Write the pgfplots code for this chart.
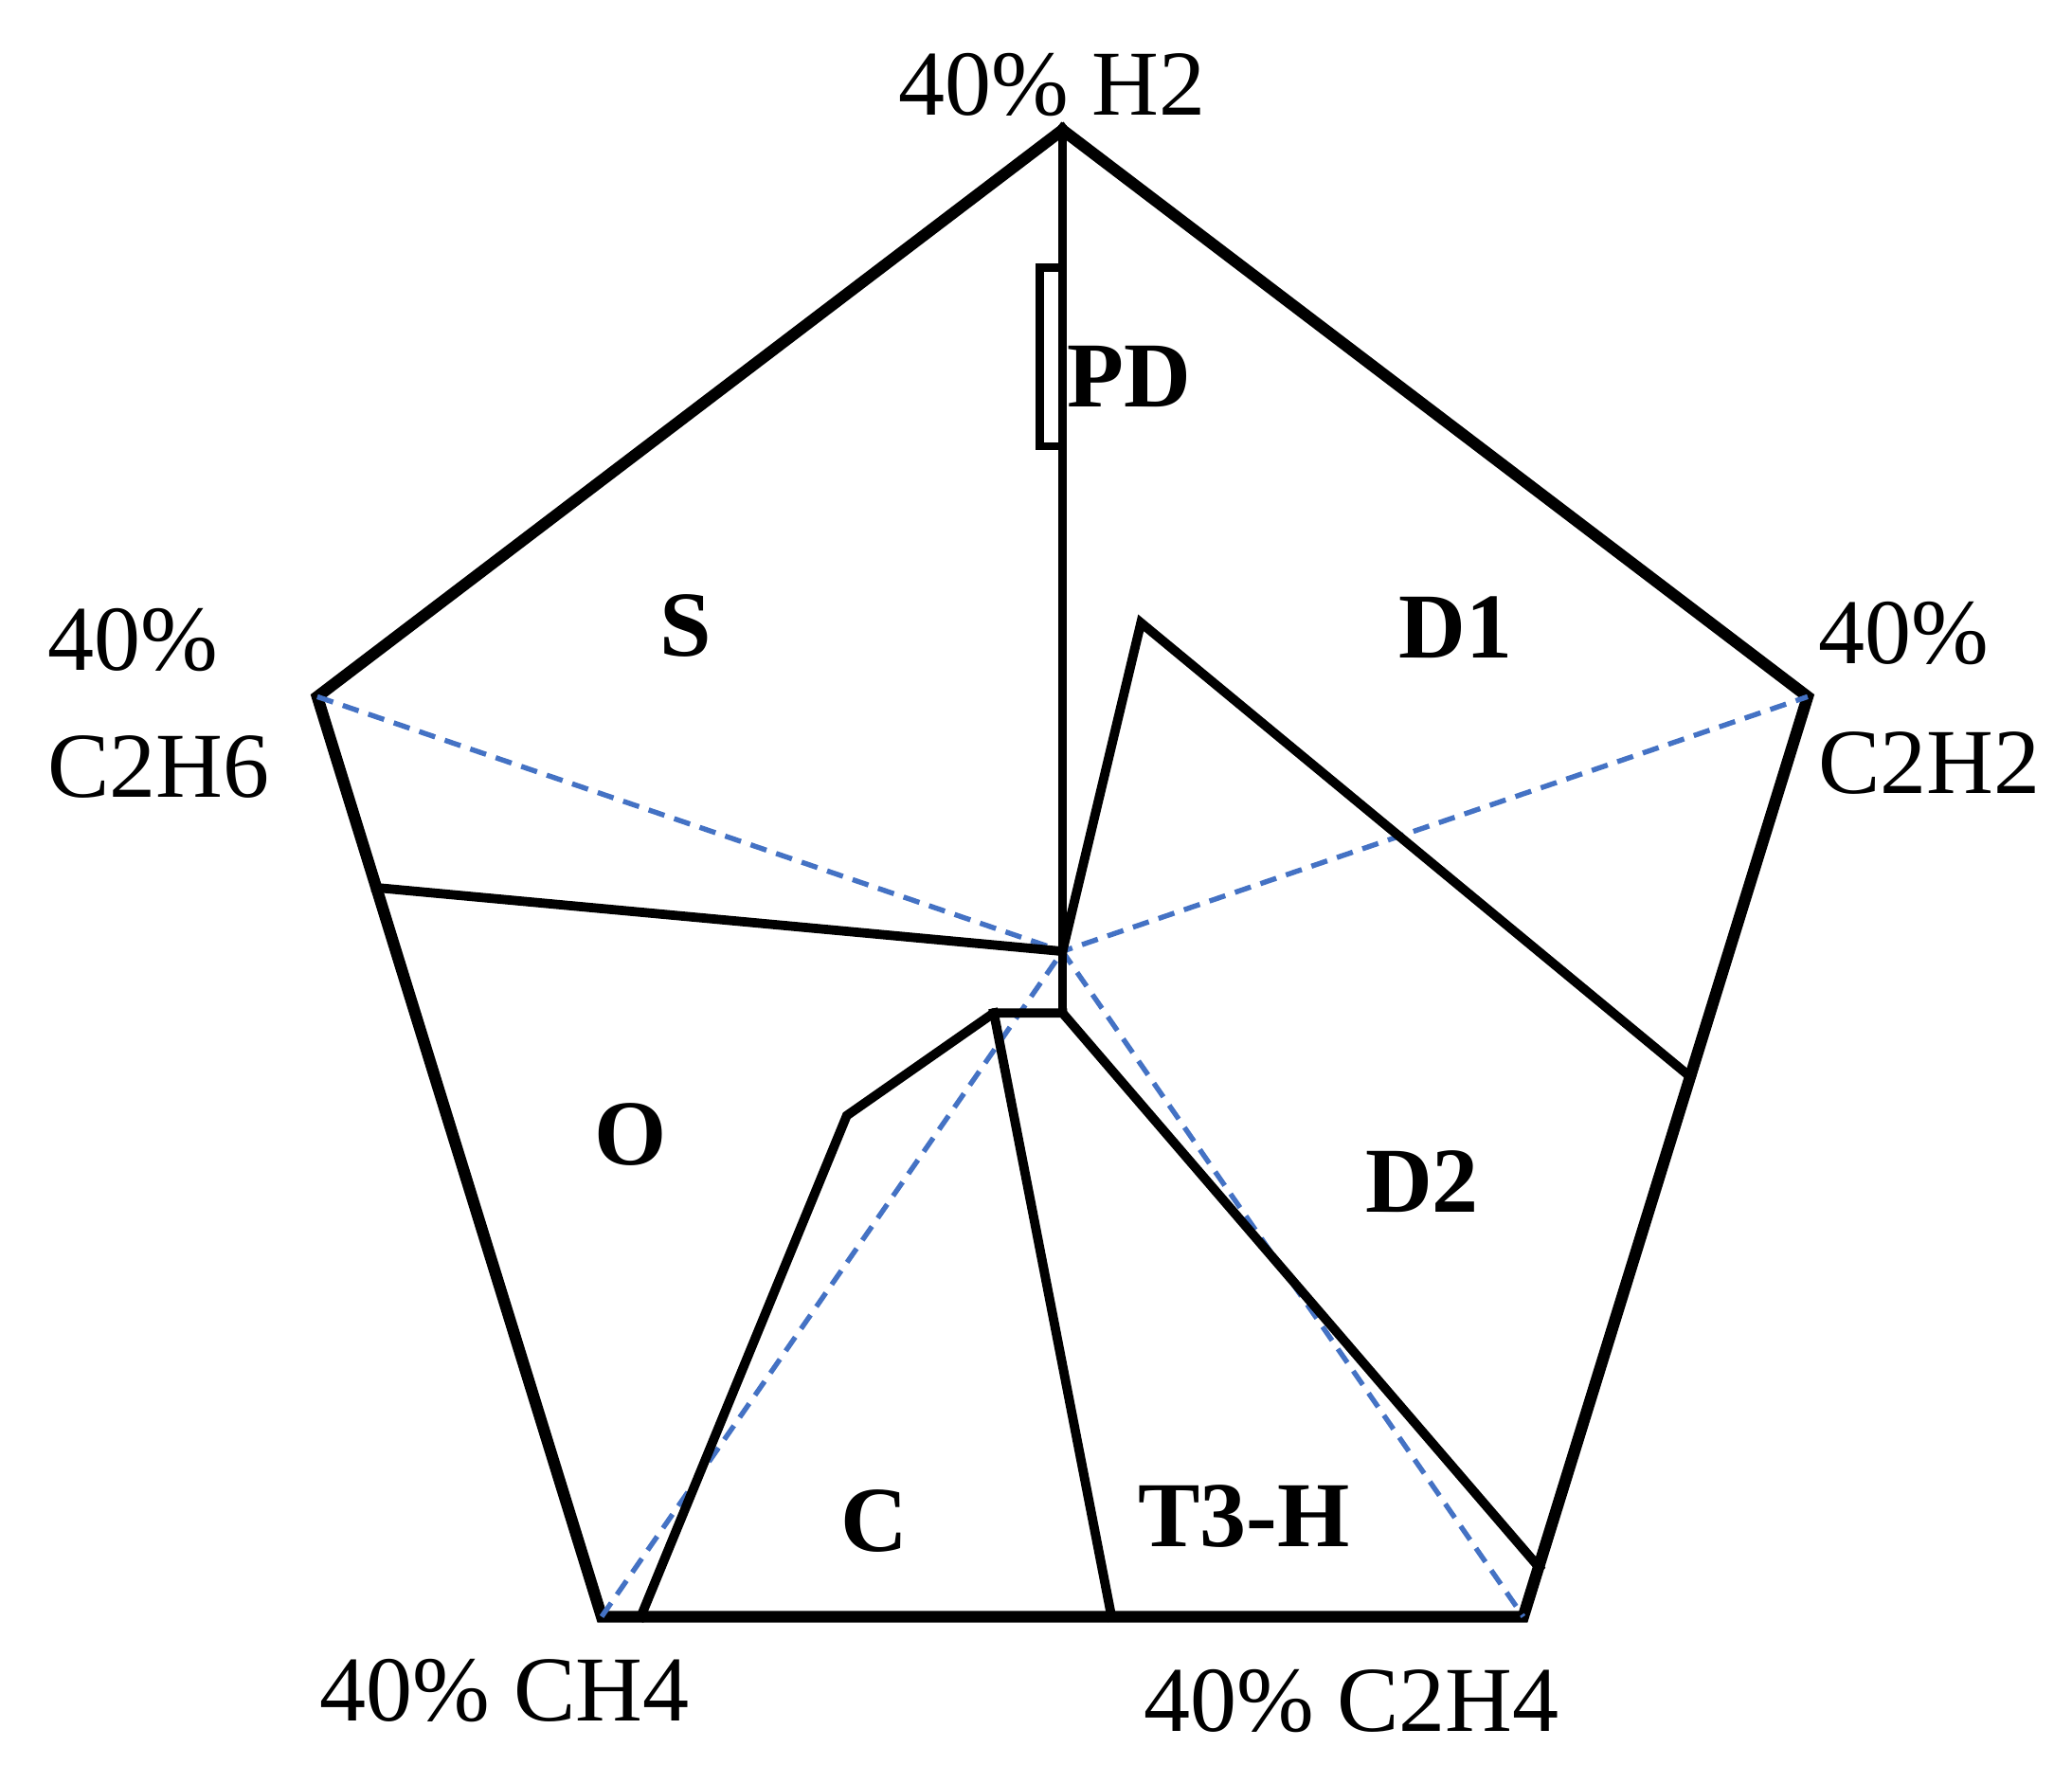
\documentclass[border=0pt]{standalone}
\usepackage{fontspec}
\setmainfont{Liberation Serif}
\usepackage{pgfplots}
\pgfplotsset{compat=1.18}
\definecolor{dashblue}{HTML}{4472C4}

\begin{document}
\begin{tikzpicture}
\begin{axis}[
    width=15.68cm, height=13.35cm,
    scale only axis,
    xmin=-54.18, xmax=51.48,
    ymin=-39.58, ymax=46.33,
    axis lines=none,
    clip=false,
    no markers,
    every axis plot/.append style={line join=miter, line cap=rect},
]
% keep the whole axis box as the page
\path (rel axis cs:0,0) rectangle (rel axis cs:1,1);
% outer pentagon
\addplot[black, line width=2.5pt] coordinates {
    (0,40) (-38,12.4) (-23.5,-32.4) (23.5,-32.4) (38,12.4) (0,40)
};
% dashed lines from vertices to centre
\addplot[dashblue, line width=1.1pt, dash pattern=on 3.6pt off 2.2pt, line cap=butt] coordinates {(-38,12.4) (0,0) (38,12.4)};
\addplot[dashblue, line width=1.1pt, dash pattern=on 3.6pt off 2.2pt, line cap=butt] coordinates {(-23.5,-32.4) (0,0) (23.5,-32.4)};
% zone boundaries
\addplot[black, line width=2pt] coordinates {(0,40) (0,-3)};
\addplot[black, line width=2pt] coordinates {(-35,3.1) (0,0)};
\addplot[black, line width=2pt] coordinates {(0,0) (4,16) (32,-6.1)};
\addplot[black, line width=2pt] coordinates {(0,-3) (-3.5,-3) (-11,-8) (-21.5,-32.4)};
\addplot[black, line width=2pt] coordinates {(-3.5,-3) (2.5,-32.4)};
\addplot[black, line width=2pt] coordinates {(0,-3) (24.3,-30)};
% PD
\addplot[black, line width=1.7pt] coordinates {(0,33.3) (-1.15,33.3) (-1.15,24.6) (0,24.6)};

% vertex labels
\begin{scope}[every node/.style={font=\fontsize{20}{24}\selectfont, inner sep=0pt}]
\node[anchor=base west] at (axis cs:-8.4,40.7) {40\% H2};
\node[anchor=base west] at (axis cs:-51.8,13.7) {40\%};
\node[anchor=base west] at (axis cs:-51.8,7.5) {C2H6};
\node[anchor=base west] at (axis cs:38.5,14.0) {40\%};
\node[anchor=base west] at (axis cs:38.5,7.7) {C2H2};
\node[anchor=base west] at (axis cs:-37.9,-37.5) {40\% CH4};
\node[anchor=base west] at (axis cs:4.1,-38.0) {40\% C2H4};
% zone labels
\node[anchor=base west, font=\fontsize{20}{24}\selectfont\bfseries] at (axis cs:0.2,26.5) {PD};
\node[anchor=base, font=\fontsize{20}{24}\selectfont\bfseries] at (axis cs:-19.2,14.4) {S};
\node[anchor=base west, font=\fontsize{20}{24}\selectfont\bfseries] at (axis cs:17.1,14.3) {D1};
\node[anchor=base, font=\fontsize{20}{24}\selectfont\bfseries] at (axis cs:-22.0,-10.4) {O};
\node[anchor=base west, font=\fontsize{20}{24}\selectfont\bfseries] at (axis cs:15.4,-12.7) {D2};
\node[anchor=base, font=\fontsize{20}{24}\selectfont\bfseries] at (axis cs:-9.6,-29.2) {C};
\node[anchor=base west, font=\fontsize{20}{24}\selectfont\bfseries] at (axis cs:3.8,-29.0) {T3-H};
\end{scope}
\end{axis}
\end{tikzpicture}
\end{document}
